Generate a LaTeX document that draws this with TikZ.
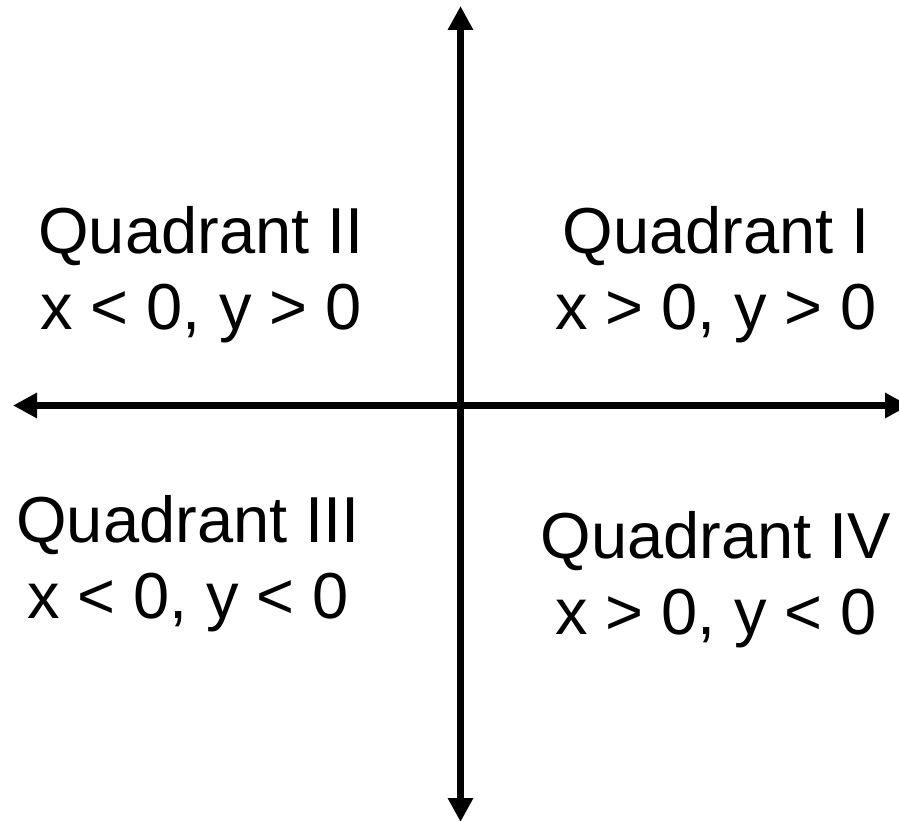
\documentclass[tikz,border=0pt]{standalone}
\usepackage{fontspec}
\setmainfont{Liberation Sans}
\usepackage{tikz}
\usetikzlibrary{arrows.meta}

\begin{document}
\begin{tikzpicture}[
  x=1pt, y=-1pt,
  font=\fontsize{65pt}{76pt}\selectfont,
  axis/.style={line width=7pt, {Triangle[length=24pt,width=24pt]}-{Triangle[length=24pt,width=24pt]}},
  quad/.style={align=center, inner sep=0pt}]

\useasboundingbox (0,0) rectangle (899,821);

\coordinate (west)  at (13,405.5);
\coordinate (east)  at (909,405.5);
\coordinate (north) at (460.5,6);
\coordinate (south) at (460.5,822);

\draw[axis] (west) -- (east);
\draw[axis] (north) -- (south);

\node[quad] (q1)   at (716,275) {Quadrant I\\x > 0, y > 0};
\node[quad] (q2)  at (201,275) {Quadrant II\\x < 0, y > 0};
\node[quad] (q3) at (188,564) {Quadrant III\\x < 0, y < 0};
\node[quad] (q4)  at (716,580) {Quadrant IV\\x > 0, y < 0};

\end{tikzpicture}
\end{document}
